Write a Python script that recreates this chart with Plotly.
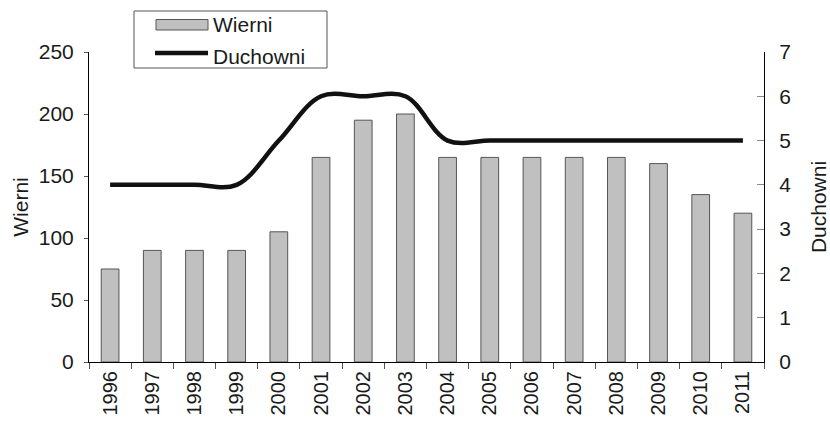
import plotly.graph_objects as go

years = ["1996", "1997", "1998", "1999", "2000", "2001", "2002", "2003",
         "2004", "2005", "2006", "2007", "2008", "2009", "2010", "2011"]
wierni = [75, 90, 90, 90, 105, 165, 195, 200, 165, 165, 165, 165, 165, 160, 135, 120]
duchowni = [4, 4, 4, 4, 5, 6, 6, 6, 5, 5, 5, 5, 5, 5, 5, 5]

font_family = "Liberation Sans, Arial, sans-serif"
text_color = "#1a1a1a"
bar_color = "#c0c0c0"
bar_edge = "#555555"
line_color = "#111111"

W, H = 830, 421
ML, MR, MT, MB = 89, 66, 52, 59
PW, PH = W - ML - MR, H - MT - MB


def px(xp):
    return (xp - ML) / PW


def py(yp):
    return (H - MB - yp) / PH


fig = go.Figure()
fig.add_trace(go.Bar(
    x=years, y=wierni, name="Wierni",
    marker=dict(color=bar_color, line=dict(color=bar_edge, width=1)),
    width=0.42, yaxis="y", showlegend=False,
))
fig.add_trace(go.Scatter(
    x=years, y=duchowni, name="Duchowni", mode="lines",
    line=dict(color=line_color, width=4.5, shape="spline", smoothing=1.0),
    yaxis="y2", showlegend=False,
))

# Legend drawn manually (box, swatches, labels)
shapes = [
    dict(type="rect", xref="paper", yref="paper",
         x0=px(134), x1=px(327), y0=py(68), y1=py(11),
         line=dict(color="#555555", width=1), fillcolor="white", layer="above"),
    dict(type="rect", xref="paper", yref="paper",
         x0=px(156), x1=px(208), y0=py(30), y1=py(19.5),
         line=dict(color=bar_edge, width=1), fillcolor=bar_color, layer="above"),
    dict(type="line", xref="paper", yref="paper",
         x0=px(155), x1=px(208), y0=py(53), y1=py(53),
         line=dict(color=line_color, width=4.5), layer="above"),
]
annotations = [
    dict(text="Wierni", xref="paper", yref="paper", x=px(211), y=py(25),
         xanchor="left", yanchor="middle", showarrow=False,
         font=dict(size=21, color=text_color)),
    dict(text="Duchowni", xref="paper", yref="paper", x=px(211), y=py(56),
         xanchor="left", yanchor="middle", showarrow=False,
         font=dict(size=21, color=text_color)),
]

fig.update_layout(
    width=W, height=H,
    margin=dict(l=ML, r=MR, t=MT, b=MB, autoexpand=False),
    paper_bgcolor="white", plot_bgcolor="white",
    font=dict(family=font_family, size=21, color=text_color),
    showlegend=False,
    shapes=shapes,
    annotations=annotations,
    xaxis=dict(
        type="category", tickson="boundaries", ticks="outside", ticklen=6,
        tickcolor="#555555", showline=True, linecolor="#000000", linewidth=1,
        tickangle=-90, showgrid=False, tickfont=dict(size=20), automargin=False,
    ),
    yaxis=dict(
        range=[0, 250], dtick=50, ticks="outside", ticklen=4,
        tickcolor="#555555", showline=True, linecolor="#000000", linewidth=1,
        showgrid=False, zeroline=False, automargin=False,
        ticklabelstandoff=6,
        title=dict(text="Wierni", font=dict(size=21), standoff=4),
        tickfont=dict(size=21),
    ),
    yaxis2=dict(
        range=[0, 7], dtick=1, overlaying="y", side="right",
        ticks="inside", ticklen=7, tickcolor="#888888",
        showline=True, linecolor="#000000", linewidth=1,
        showgrid=False, zeroline=False, automargin=False,
        ticklabelstandoff=10,
        title=dict(text="Duchowni", font=dict(size=21), standoff=22),
        tickfont=dict(size=21),
    ),
)

fig.write_html(
    "out.html",
    config={"displayModeBar": False},
    post_script="document.body.style.margin='0';document.body.style.overflow='hidden';",
)
